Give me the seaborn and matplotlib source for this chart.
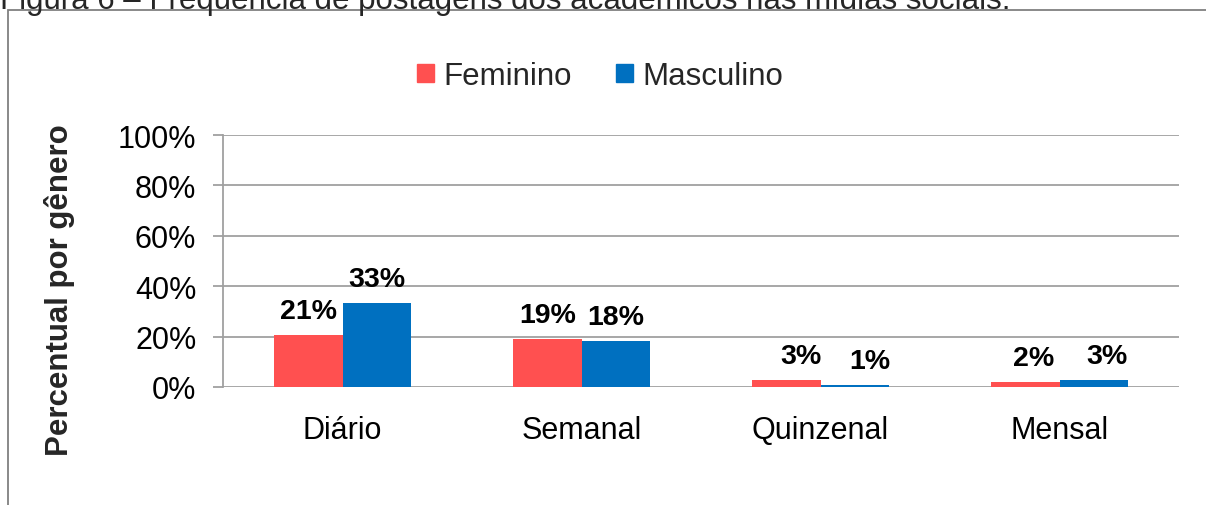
import matplotlib
matplotlib.use("Agg")
import matplotlib.pyplot as plt
import seaborn as sns
import pandas as pd
from matplotlib.patches import Rectangle
from matplotlib.ticker import FuncFormatter

categories = ["Diário", "Semanal", "Quinzenal", "Mensal"]
series_names = ["Feminino", "Masculino"]
feminino = [20.6, 19.2, 2.8, 2.0]
masculino = [33.3, 18.3, 0.7, 2.7]
colors = ["#FF5050", "#0070C0"]
yticks = [0, 20, 40, 60, 80, 100]
title = "Figura 6 – Frequência de postagens dos acadêmicos nas mídias sociais."
ylabel = "Percentual por gênero"
# horizontal nudges of the value labels (points), per series
label_dx = [[0, 0, 10.8, 5.8], [0, 0, 10.8, 10.0]]

sns.set_theme(style="white")
plt.rcParams["font.family"] = ["Liberation Sans", "DejaVu Sans"]

df = pd.DataFrame({
    "cat": categories * 2,
    "val": feminino + masculino,
    "serie": [series_names[0]] * 4 + [series_names[1]] * 4,
})

fig = plt.figure(figsize=(12.06, 5.06), dpi=100)
ax = fig.add_axes([223 / 1206, 1 - 388 / 506, (1179 - 223) / 1206, (388 - 136) / 506])

sns.barplot(data=df, x="cat", y="val", hue="serie", order=categories,
            hue_order=series_names, palette=colors, width=0.57, gap=0,
            saturation=1, ax=ax, legend=False, linewidth=0)

ax.set_xlim(-0.5, 3.5)
ax.set_ylim(0, 100)
ax.set_yticks(yticks)
ax.yaxis.set_major_formatter(FuncFormatter(lambda v, p: f"{int(v)}%"))
ax.grid(axis="y", color="#A0A0A0", linewidth=1.3)
ax.set_axisbelow(True)
for s in ["top", "right", "bottom"]:
    ax.spines[s].set_visible(False)
ax.spines["left"].set_color("#A0A0A0")
ax.spines["left"].set_linewidth(1.3)
ax.tick_params(axis="y", length=7.2, width=1.3, color="#A0A0A0", pad=12,
               labelsize=22, labelcolor="black", left=True)
ax.tick_params(axis="x", length=0, pad=20, labelsize=22, labelcolor="black")
ax.set_xlabel("")
ax.set_ylabel("")

for si, cont in enumerate(ax.containers):
    anns = ax.bar_label(cont, labels=[f"{round(v)}%" for v in cont.datavalues],
                        padding=8, fontsize=20.5, fontweight="bold", color="black")
    for ci, a in enumerate(anns):
        x0, y0 = a.xyann
        a.xyann = (x0 + label_dx[si][ci], y0)

fig.text(60 / 1206, 1 - 290 / 506, ylabel, rotation=90, fontsize=22.5,
         fontweight="bold", ha="center", va="center")

handles = [Rectangle((0, 0), 1, 1, color=c) for c in colors]
fig.legend(handles, series_names, loc="center", bbox_to_anchor=(600 / 1206, 1 - 77 / 506),
           ncol=2, frameon=False, fontsize=22.5, handlelength=0.55, handleheight=0.55,
           handletextpad=0.3, columnspacing=1.4)

fig.patches.append(Rectangle((8 / 1206, -0.1), 1.2, 1 - 11 / 506 + 0.1,
                             transform=fig.transFigure, fill=False,
                             edgecolor="#808080", linewidth=1.3))

fig.text(0.0, 1 - 9 / 506, title, fontsize=22.5, ha="left", va="baseline")

fig.savefig("out.png", dpi=100)
